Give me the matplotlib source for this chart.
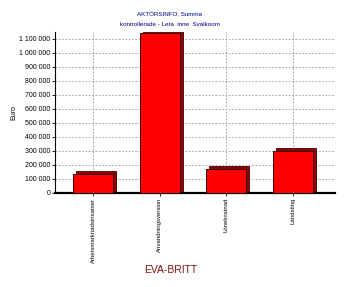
import matplotlib
matplotlib.use("Agg")
import matplotlib.pyplot as plt
from matplotlib.ticker import FuncFormatter

categories = ["Arbetsmarknadsinsatser", "Anvandningsversion", "Lönekostnad", "Landsting"]
values = [131000, 1140000, 169000, 298000]
yticks = list(range(0, 1100001, 100000))

plt.rcParams['font.family'] = ['Liberation Sans', 'DejaVu Sans']

fig = plt.figure(figsize=(3.46, 2.87), dpi=100)
ax = fig.add_axes([0.159, 0.329, 0.809, 0.561])

x = list(range(len(categories)))
width = 0.6
dx = 0.045
dy = 20000

# gridlines behind bars
ax.set_axisbelow(True)
ax.grid(True, color="#999999", linestyle=(0, (2, 2)), linewidth=0.6)

# depth face, then front face
ax.bar([i + dx for i in x], [v + dy for v in values], width=width, bottom=0,
       color="#8b0000", edgecolor="#4a0000", linewidth=0.6, zorder=2)
ax.bar(x, values, width=width, color="#ff0000", edgecolor="#3a0000",
       linewidth=0.7, zorder=3)

ax.set_xlim(-0.57, 3.63)
ax.set_ylim(0, 1150000)
ax.set_xticks(x)
ax.set_xticklabels(categories, rotation=90, fontsize=4.3)
ax.set_yticks(yticks)
ax.yaxis.set_major_formatter(FuncFormatter(lambda v, p: f"{int(v):,}".replace(",", " ")))
ax.tick_params(axis="y", labelsize=5, length=2, width=0.6, pad=1.5)
ax.tick_params(axis="x", length=2, width=0.6, pad=1.5)

ax.spines["top"].set_visible(False)
ax.spines["right"].set_visible(False)
ax.spines["left"].set_linewidth(0.8)
ax.spines["bottom"].set_linewidth(1.6)

ax.set_ylabel("Euro", fontsize=5, labelpad=1)

fig.text(0.49, 0.948, "AKTÖRSINFO, Summa", ha="center", va="center",
         fontsize=4.5, color="#000080")
fig.text(0.49, 0.916, "kontrollerade - Leta  inne  Svalkoom", ha="center", va="center",
         fontsize=4.5, color="#000080")
fig.text(0.494, 0.059, "EVA-BRITT", ha="center", va="center",
         fontsize=7.5, color="#7f1010")

fig.savefig("out.png", dpi=100)
